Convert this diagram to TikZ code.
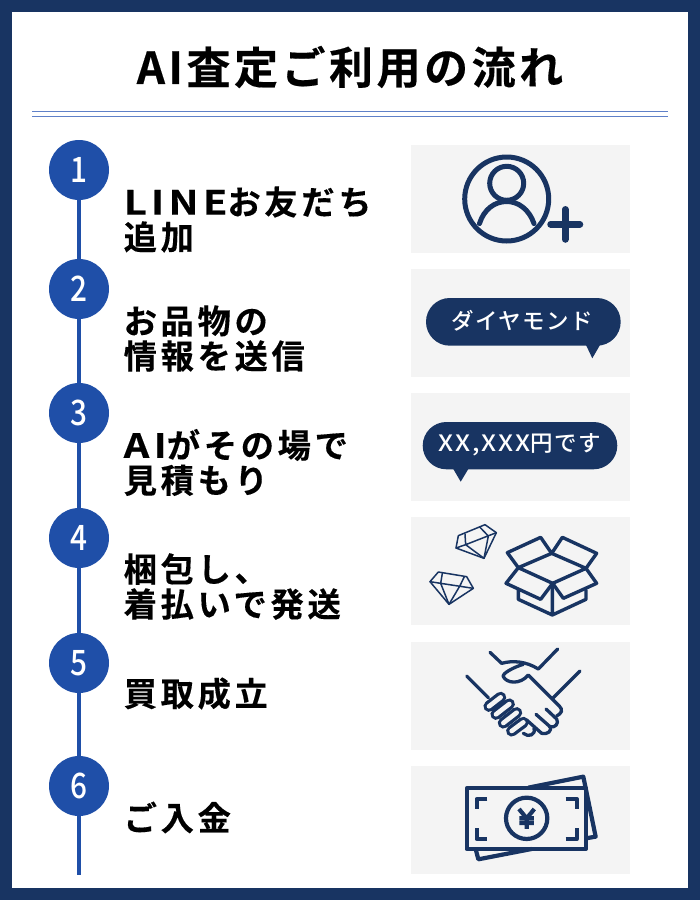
\documentclass[tikz,border=0pt]{standalone}
\usepackage{fontspec}
\setmainfont{Noto Sans CJK JP}[BoldFont={* Bold}]
\newfontfamily\titlefont{Noto Sans CJK JP Bold}[LetterSpace=8, FakeBold=0.4]
\newfontfamily\stepfont{Noto Sans CJK JP Bold}[LetterSpace=11, FakeBold=0.3]
\newfontfamily\steplatin{Noto Sans CJK JP Bold}[LetterSpace=13, FakeBold=0.3, FakeStretch=1.2]
\newfontfamily\tagfont{Noto Sans CJK JP Medium}[LetterSpace=6]
\newfontfamily\taglatin{Noto Sans CJK JP Medium}[LetterSpace=9, FakeStretch=1.12]
\newfontfamily\numfont{Noto Sans CJK JP Medium}[FakeStretch=0.85]
\definecolor{navy}{HTML}{183462}
\definecolor{stepblue}{HTML}{1F4FA8}
\definecolor{rulecol}{HTML}{5F80C8}
\definecolor{panelgray}{HTML}{F4F4F4}
\tikzset{
  stepnum/.style={circle, fill=stepblue, text=white, minimum size=60pt, inner sep=0pt, font=\numfont\fontsize{35}{35}\selectfont},
  steptext/.style={anchor=west, align=left, inner sep=0pt, font=\stepfont\fontsize{33.3}{35}\selectfont},
  panel/.style={fill=panelgray, draw=none, minimum width=219pt, minimum height=108pt, inner sep=0pt},
  icon/.style={draw=navy, line width=5pt, line join=round, line cap=round},
  boxicon/.style={draw=navy, line width=3.4pt, line join=round, line cap=round},
  gemicon/.style={draw=navy, line width=1.5pt, line join=round, line cap=round},
  handicon/.style={draw=navy, line width=3.3pt, line join=round, line cap=round},
  fingericon/.style={draw=navy, line width=3.3pt, double=panelgray, double distance=4.6pt, line cap=round},
  billicon/.style={draw=navy, line width=4.2pt, line join=round},
  bubbletext/.style={text=white, inner sep=0pt, font=\tagfont\fontsize{22.5}{22.5}\selectfont}
}
\begin{document}
\begin{tikzpicture}[x=1pt, y=-1pt]
  \useasboundingbox (0,0) rectangle (700,900);

  % --- Frame ---
  \fill[navy] (0,0) rectangle (700,900);
  \fill[white] (12,12) rectangle (688,888);

  % --- Title ---
  \node[inner sep=0pt, font=\titlefont\fontsize{44}{44}\selectfont] (title) at (350,67) {AI査定ご利用の流れ};
  \draw[rulecol, line width=1pt] (32,111.5) -- (668,111.5) (32,116.5) -- (668,116.5);

  % --- Timeline ---
  \coordinate (lineend) at (79,875);
  \foreach \n/\y in {1/170, 2/289, 3/413, 4/538, 5/663, 6/786} {
    \node[stepnum] (num\n) at (79,\y) {\raisebox{-5pt}{\n}};
  }
  \draw[stepblue, line width=4pt] (num1) -- (num2) (num2) -- (num3) (num3) -- (num4)
  (num4) -- (num5) (num5) -- (num6) (num6) -- (lineend);

  % --- Step labels ---
  \node[steptext] (label1) at (123.5,219.5) {{\steplatin LINE}お友だち\\追加};
  \node[steptext] (label2) at (123.5,338.5) {お品物の\\情報を送信};
  \node[steptext] (label3) at (123.5,462.5) {{\steplatin AI}がその場で\\見積もり};
  \node[steptext] (label4) at (123.5,586.5) {梱包し、\\着払いで発送};
  \node[steptext] (label5) at (123.5,693.5) {買取成立};
  \node[steptext] (label6) at (123.5,817.5) {ご入金};

  % --- Panels ---
  \foreach \n/\y in {1/199, 2/323, 3/447, 4/571, 5/696, 6/820} {
    \node[panel] (panel\n) at (520.5,\y) {};
  }

  % Person with plus
  \draw[icon] (506.7,199) circle (42);
  \draw[icon] (506.7,183.3) circle (17);
  \draw[icon] (479.5,223.5) .. controls (484,209) and (495,201.5) .. (506.7,201.5)
  .. controls (518,201.5) and (529,209) .. (534,223.5);
  \draw[icon, line width=6.5pt] (550.5,224.3) -- (580,224.3) (565.3,209.3) -- (565.3,239.5);

  % Speech bubbles
  \fill[navy, rounded corners=23.8pt] (426,298) rectangle (620.7,345.7);
  \fill[navy] (586,345) -- (600,345) -- (592.3,358.3) -- cycle;
  \node[bubbletext] (tag1) at (522.5,321) {ダイヤモンド};

  \fill[navy, rounded corners=23.7pt] (422.7,422) rectangle (617.3,469.3);
  \fill[navy] (453.3,469) -- (468.3,469) -- (460.7,481.7) -- cycle;
  \node[bubbletext] (tag2) at (519.5,445) {{\taglatin XX,XXX}円です};

  % Gems
  \begin{scope}[shift={(425,520)}, scale=0.3333]
    \draw[gemicon] (100,47) -- (180,14) -- (214,38) -- (177,115) -- (93,84) -- cycle;
    \draw[gemicon] (120,42) -- (122,74) (93,84) -- (122,74) -- (214,38) (165,22) -- (190,48) -- (177,115) (122,74) -- (177,115);
    \draw[gemicon] (15,185) -- (40,156) -- (125,170) -- (145,205) -- (72,253) -- cycle;
    \draw[gemicon] (15,185) -- (47,190) -- (145,205) (52,160) -- (47,190) -- (72,253) (118,170) -- (105,197) -- (72,253);
  \end{scope}

  % Open box
  \begin{scope}[shift={(500,530)}, scale=0.3333]
    \draw[boxicon] (155,70) -- (258,115) -- (158,160) -- (55,113) -- cycle;
    \draw[boxicon] (55,113) -- (22,68) -- (122,22) -- (155,70) -- (187,22) -- (290,70) -- (258,115);
    \draw[boxicon] (55,113) -- (18,160) -- (122,208) -- (158,160) -- (190,205) -- (290,160) -- (258,115);
    \draw[boxicon] (55,180) -- (55,208) -- (157,255) -- (258,208) -- (258,180) (157,160) -- (157,255);
  \end{scope}

  % Handshake
  \begin{scope}[shift={(460,645)}, scale=0.3333]
    \draw[handicon] (20,93) -- (85,158) (360,78) -- (278,160);
    \draw[handicon] (90,22) -- (125,55) .. controls (160,45) and (200,50) .. (235,72) -- (293,12);
    \draw[handicon] (190,58) .. controls (165,65) and (125,85) .. (130,95)
    .. controls (140,115) and (180,120) .. (205,90) -- (298,183)
    .. controls (310,195) and (305,205) .. (290,213);
    \draw[handicon] (258,192) -- (290,222) .. controls (298,235) and (285,250) .. (270,245) -- (228,208);
    \draw[handicon] (268,243) .. controls (280,258) and (260,270) .. (245,265) -- (200,225);
    \draw[handicon] (222,250) .. controls (228,270) and (205,278) .. (190,265);
    \draw[fingericon] (87,184) -- (122,157);
    \draw[fingericon] (108,208) -- (148,177);
    \draw[fingericon] (130,234) -- (170,203);
    \draw[fingericon] (155,258) -- (190,232);
  \end{scope}

  % Banknotes
  \begin{scope}[shift={(410,640)}, scale=0.3333]
    \draw[billicon] (355,443) -- (520,410) -- (557,590) -- (528,595) (365,627) -- (205,658) -- (197,627);
    \draw[billicon] (170,445) rectangle (528,627);
    \draw[billicon] (232,477) -- (200,477) -- (200,507) (467,477) -- (500,477) -- (500,507);
    \draw[billicon] (200,565) -- (200,597) -- (232,597) (467,597) -- (500,597) -- (500,565);
    \draw[billicon] (350,535) circle (62);
    \draw[billicon] (327,507) -- (350,535) -- (373,507) (350,535) -- (350,567) (328,535) -- (372,535) (328,549) -- (372,549);
  \end{scope}
\end{tikzpicture}
\end{document}
